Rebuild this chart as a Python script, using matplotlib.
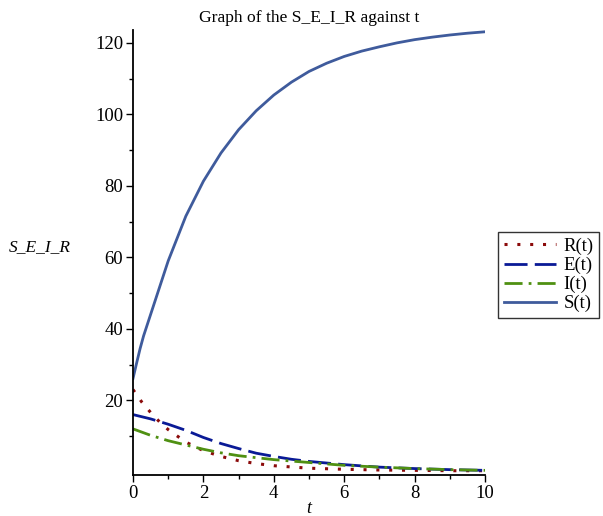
import matplotlib
matplotlib.use("Agg")
import matplotlib.pyplot as plt
from matplotlib.ticker import MultipleLocator, FixedLocator

plt.rcParams['font.family'] = ['Liberation Serif', 'DejaVu Serif']

t_S = [0, 0.1, 0.2, 0.3, 0.5, 0.75, 1, 1.5, 2, 2.5, 3, 3.5, 4, 4.5, 5, 5.5, 6, 6.5, 7, 7.5, 8, 8.5, 9, 9.5, 10]
S = [26.1, 30.3, 34.4, 38, 44, 51.5, 59, 71.5, 81.3, 89.2, 95.7, 101, 105.4, 109, 112, 114.3, 116.2, 117.7, 118.9, 120, 120.9, 121.6, 122.2, 122.7, 123.1]

t_R = [0, 0.25, 0.5, 0.75, 1, 1.5, 2, 2.5, 3, 3.5, 4, 5, 6, 7, 8, 9, 10]
R = [23, 19.5, 16.6, 14, 11.8, 8.3, 5.9, 4.3, 3.1, 2.3, 1.7, 1.0, 0.7, 0.5, 0.4, 0.3, 0.3]

t_E = [0, 0.5, 1, 1.5, 2, 2.5, 3, 3.5, 4, 4.5, 5, 6, 7, 8, 9, 10]
E = [16, 14.8, 13.3, 11.6, 9.6, 7.9, 6.5, 5.2, 4.3, 3.5, 2.9, 2.0, 1.3, 0.9, 0.6, 0.4]

t_I = [0, 0.5, 1, 1.5, 2, 2.5, 3, 4, 5, 6, 7, 8, 9, 10]
I = [12, 10.2, 8.7, 7.5, 6.3, 5.3, 4.5, 3.4, 2.6, 1.8, 1.3, 0.9, 0.6, 0.4]

y_major = [20, 40, 60, 80, 100, 120]
y_minor = [10, 30, 50, 70, 90, 110]

fig = plt.figure(figsize=(6.03, 5.16), dpi=100)
ax = fig.add_axes([133/603, 1-475/516, (485-133)/603, (475-30)/516])

lR, = ax.plot(t_R, R, color='#8b0a0a', lw=2.2, linestyle=(0, (1, 3.2)), label='R(t)')
lE, = ax.plot(t_E, E, color='#0a1a96', lw=2, linestyle=(0, (8.3, 2.6)), label='E(t)')
lI, = ax.plot(t_I, I, color='#4f9012', lw=2, linestyle=(0, (6.5, 2.2, 1, 2.2)), label='I(t)')
lS, = ax.plot(t_S, S, color='#3f5b9c', lw=2, label='S(t)')

ax.set_xlim(0, 10)
ax.set_ylim(-0.9, 123.6)
ax.xaxis.set_major_locator(MultipleLocator(2))
ax.xaxis.set_minor_locator(MultipleLocator(1))
ax.yaxis.set_major_locator(FixedLocator(y_major))
ax.yaxis.set_minor_locator(FixedLocator(y_minor))
ax.spines['top'].set_visible(False)
ax.spines['right'].set_visible(False)
ax.spines['left'].set_linewidth(1.3)
ax.spines['bottom'].set_linewidth(1.3)
ax.tick_params(which='major', direction='out', length=5, width=1, labelsize=13.5, pad=2)
ax.tick_params(which='minor', direction='out', length=3, width=1)

ax.set_title('Graph of the S_E_I_R against t', fontsize=12.6, pad=6)
ax.set_xlabel('t', fontstyle='italic', fontsize=13, labelpad=-1)
fig.text(9/603, 1-247/516, 'S_E_I_R', fontstyle='italic', fontsize=12.5, va='center', ha='left')

leg = fig.legend(handles=[lR, lE, lI, lS], loc='upper left', bbox_to_anchor=(498/603, 1-232/516),
                 fontsize=13.5, frameon=True, fancybox=False, edgecolor='black',
                 handlelength=2.8, handletextpad=0.4, borderpad=0.3, labelspacing=0.1,
                 borderaxespad=0)
leg.get_frame().set_linewidth(1.0)

fig.savefig('out.png', dpi=100)
